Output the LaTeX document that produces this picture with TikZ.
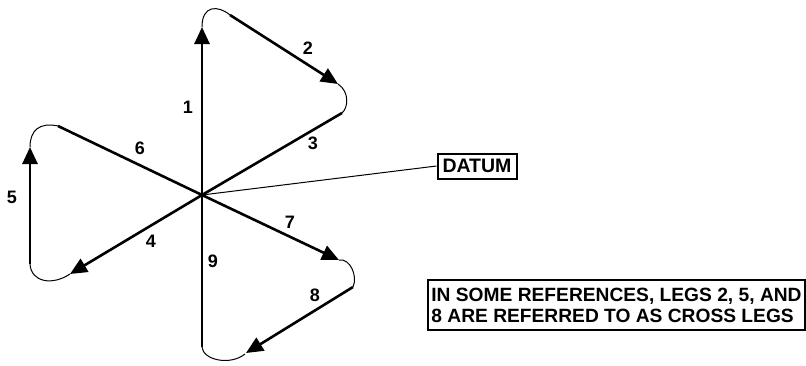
\documentclass[tikz,border=0pt]{standalone}
\usepackage{fontspec}
\setmainfont{Liberation Sans}
\usetikzlibrary{arrows.meta}
\begin{document}
\begin{tikzpicture}[x=1pt,y=-1pt,
  leg/.style={line width=2.6pt},
  legarrow/.style={leg,-{Triangle[length=17pt,width=15pt]}},
  turn/.style={line width=1pt},
  lbl/.style={font=\fontsize{18}{18}\selectfont\bfseries,inner sep=0pt},
  box/.style={draw,line width=2pt,font=\bfseries,inner sep=3pt}]
\useasboundingbox (0,0) rectangle (806,365);
% points
\coordinate (O) at (202,195);
\coordinate (t1) at (202,27);
\coordinate (s2) at (230,15);
\coordinate (t2) at (338,84);
\coordinate (s3) at (342,113);
\coordinate (s6) at (58,126);
\coordinate (t5) at (30,147);
\coordinate (s5) at (30,264);
\coordinate (t4) at (70,274);
\coordinate (t7) at (339,260);
\coordinate (s8) at (353,287);
\coordinate (t8) at (246,353);
\coordinate (s9) at (202,347);
\coordinate (e9) at (245,354);
% legs
\draw[legarrow] (O) -- (t1);
\draw[turn] (t1) .. controls (202,5) and (218,5) .. (s2);
\draw[legarrow] (s2) -- (t2);
\draw[turn] (t2) .. controls (350,92) and (348,108) .. (s3);
\draw[leg] (s3) -- (O);
\draw[leg] (O) -- (s6);
\draw[turn] (s6) .. controls (40,122) and (30,130) .. (t5);
\draw[legarrow] (s5) -- (t5);
\draw[turn] (s5) .. controls (31,282) and (52,286) .. (t4);
\draw[legarrow] (O) -- (t4);
\draw[legarrow] (O) -- (t7);
\draw[turn] (t7) .. controls (350,258) and (358,276) .. (s8);
\draw[legarrow] (s8) -- (t8);
\draw[leg] (O) -- (s9);
\draw[turn] (s9) .. controls (203,360) and (230,366) .. (e9);
% labels
\node[lbl] (l1) at (188,107) {1};
\node[lbl] (l2) at (308,48) {2};
\node[lbl] (l3) at (313,143) {3};
\node[lbl] (l4) at (151,241) {4};
\node[lbl] (l5) at (12,197) {5};
\node[lbl] (l6) at (140,148) {6};
\node[lbl] (l7) at (290,222) {7};
\node[lbl] (l8) at (315,295) {8};
\node[lbl] (l9) at (213,261) {9};
% datum
\node[box,font=\fontsize{19.5}{20}\selectfont\bfseries,minimum width=79,minimum height=25,inner sep=1pt] (datum) at (477,166) {DATUM};
\draw[line width=1pt] (O) -- (datum.west);
% note
\node[box,align=left,font=\fontsize{19.2}{21}\selectfont\bfseries,minimum width=377,minimum height=50,inner sep=2pt] (note) at (616.5,305)
  {IN SOME REFERENCES, LEGS 2, 5, AND\\8 ARE REFERRED TO AS CROSS LEGS};
\end{tikzpicture}
\end{document}
